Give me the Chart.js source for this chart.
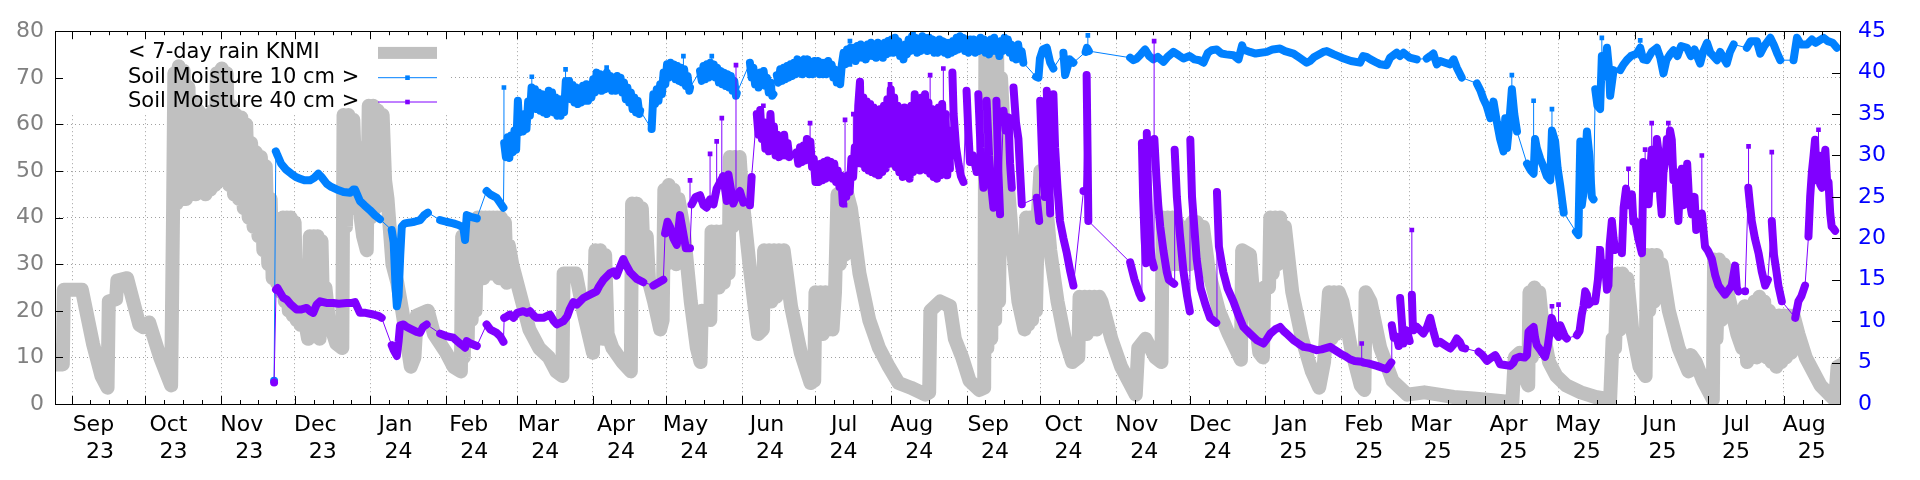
<!DOCTYPE html>
<html>
<head>
<meta charset="utf-8">
<script src="https://cdn.jsdelivr.net/npm/chart.js@4"></script>
<style>
  html, body { margin: 0; padding: 0; background: #fff; }
  #wrap { width: 1920px; height: 480px; }
</style>
</head>
<body>
<div id="wrap"><canvas id="myChart" width="1920" height="480"></canvas></div>
<script>
// x values are days counted from 2023-08-25 (left edge of the plot)
const startDate = Date.UTC(2023, 7, 25);
const endDay = 730;

const monthLabels = [
    ['Sep', '23'], ['Oct', '23'], ['Nov', '23'], ['Dec', '23'],
    ['Jan', '24'], ['Feb', '24'], ['Mar', '24'], ['Apr', '24'], ['May', '24'], ['Jun', '24'],
    ['Jul', '24'], ['Aug', '24'], ['Sep', '24'], ['Oct', '24'], ['Nov', '24'], ['Dec', '24'],
    ['Jan', '25'], ['Feb', '25'], ['Mar', '25'], ['Apr', '25'], ['May', '25'], ['Jun', '25'],
    ['Jul', '25'], ['Aug', '25']
];

// 7-day rain (mm, left axis)
const rain7d = [
    [0,13],[0.8,8.5],[3.2,8.5],[3.6,24.5],[11,24.5],[15.5,13],[19,6],[21.5,3.5],[22,22],[25,22.5],[25.5,26.5],[29.5,27],[31,24],[34.5,17],[36,16.5],[38.5,17.5],[43,10],[47.5,4],
    [48.3,42],[48.8,71],[49.8,43],[50.6,72.5],[51.6,44],[52.6,71.5],[53.6,44],[54.6,68],[55.6,45],[56.6,65],[57.6,45],[58.6,63],[59.6,45.5],[60.6,62],[61.6,45],[62.6,62],[63.6,46],[64.6,63],[65.4,47],[66.2,71],[67.2,48],[68.2,72],[69.2,48],[70.2,71],[71.2,47],[72.2,64],[73.2,45],[74.2,62],[75.2,44],[76.2,61.5],[77.2,42],[78.2,60],[79.2,40],[80.2,56],[81.2,38],[82.2,54],[83.2,36],[84.2,53],[85.2,33],[86.2,51],[87.2,30],[88.2,44],[89,27],
    [90,40],[90.8,26],[91.6,38],[92.4,24],[93.2,40],[94,22],[94.8,40],[95.6,20],[96.4,40],[97.2,19],[98,39],[98.8,18],[99.6,30],[100.4,17],[101.5,20],[103.5,14],[104.2,36],[105,16],[105.8,36],[106.6,15],[107.4,36],[108.2,14],[109,35],[109.8,16],[110.6,25],[112,18],[115,13],[117.5,12],
    [118,62],[119,38],[120,62],[121,42],[122,61],[123,46],[124,55],[125,40],[126,36],[127.5,33],[128.3,64],[129.2,40],[130.1,64],[131,42],[132,63],[133,45],[134,62],[135,48],[136,44],[138,30],[140,26],[142,20],[145.5,8],[147,10],[148,19],[152.5,20],[155,15],[160,11],[163,8],[166,7],
    [166.5,36],[167.2,10],[168,36],[168.8,14],[169.6,38],[170.4,18],[171.2,39],[172,20],[172.8,40],[173.6,27],[174.4,40],[175.2,27],[176,40],[176.8,28],[177.6,40],[178.4,28],[179.2,40],[180,28],[180.8,40],[181.6,27],[182.4,40],[183.2,27],[184,39],[184.8,26],[185.6,34],[187,30],[190,24],[194,16],[198,12],[202,10],[205,7],[207.5,6],
    [208,28],[213,28],[216,20],[220,11],[221,33],[222,15],[223,33],[224,14],[225,32],[226,15],[228,12],[232,9],[235.5,7],[236,43],[237,30],[238,43],[239,30],[240,42],[241,28],[242,36],[243,26],[245,22],[247.5,16],
    [248.5,18],[249.2,46],[250,30],[251,47],[252,32],[253,46],[254,30],[255,44],[257,38],[260,22],[262.5,12],[264,9],[264.5,20],[268,18],[268.5,37],[269.5,25],[270.5,37],[271.5,25],[272.5,37],[273.5,26],[274.5,37],[275.5,28],[276,53],[277,38],[278,53],[279,40],[280,53],[281,45],[284,30],[287.5,15],[289.5,16],[290,33],[291,22],[292,33],[293,22],[294,33],[295,23],[296,33],[297,24],[298,33],[301,21],[305,11],[309,4.5],[310.5,5],[311,24],[312,15],[313,24],[314,15],[315,24],[316,16],[317,24],[318,16],[319,24],[320,45],[321,30],[322,45],[323,32],[324,45],[325.5,42],[329,28],[333,18],[337,12],[341,8],[345,4.5],[350,3.5],[356,2],[357.5,2.5],[358,20],[362,22],[366,21],
    [368,14],[371,10],[374,5],[378,3],[380,3.5],[380.5,76],[381.3,12],[382.1,77],[382.9,14],[383.7,77],[384.5,18],[385.3,76],[386.1,22],[386.9,70],[388,58],[390,45],[392,32],[394,22],[396.5,16],[397.2,40],[398,17],[398.8,40],[399.6,18],[400.4,40],[401.2,20],[402,41],[403,50],[404.5,48],[407,33],[410,22],[413,14],[416,9],[418.5,10],[419,23],[420,15],[421,23],[422,15],[423,23],[424,16],[425,23],[426,16],[427,23],[428,22],[432,14],[436,8],[442,2],[443,12],[446,14],[450,10],[452.5,9],[453,40],[454,28],[455,40],[456,30],[457,40],[458,30],[459,39],[460,30],[461,36],[462,30],[463,38],[464,30],[465,39],[466,31],[467,39],[468,31],[469.5,38],[472,28],[476,20],[480,15],[485,9.5],[485.5,33],
    [488.7,32],[490.5,20],[492.5,11],[494,10],[494.5,25],[496.5,25],[497,40],[498,28],[499,40],[500,30],[501,40],[502,32],[503,38],[506,24],[510,14],[514,7],[517,3.5],[519,9],[521,24],[522,14],[523,24],[524,15],[525,24],[526.5,22],[530,12],[534,4],[535.5,3],[536,24],[538,22],[542,12],[547,5],[553,2],[560,2.5],[566,2],[572,1.5],[580,1.2],[588,0.8],[596,0.4],[597,10],[599,11],[600,8],[601,6],[602.5,4],[603,24],[604,10],[605,25],[606,12],[607,24],[608.5,16],[611,9],[614,6],[618,4],[624,2.5],[630,1.5],[636,1],[637,14],[638,12],[639,28],[640,16],[641,28],[642,18],[643,27],[645,16],[648,8],[650.5,6],[651,32],[652,20],[653,32],[654,22],[655,32],[656,24],[657,30],[660,20],[664,12],[668,7],[669,10.5],[671,9],[674,5],[678,1],[678.5,31],[679.5,14],[680.5,31],[681.5,18],[682.5,30],[684,24],[688,15],[690,12],[691,21],[692,9],[693,20],[694,10],[695,22],[696,10],[697,23],[698,11],[699,22],[700,10],[701,20],[702,9],[703,17],[704,8],[705,19],[706,9],[707,19],[708,10],[709,19],[710,11],[711,19],[713,15],[716,10],[722,4],[728,0.8],[729,8],[731,8.5]
];

// soil moisture 10 cm (%, right axis); null = gap in the record
const soil10 = [
    [89.6,2.8],[89.9,null],[90.3,30.5],[91,30],[92.5,29],[94.5,28.3],[96.6,27.8],[98.5,27.4],[100.2,27.2],[102,27],[104.3,27],[106,27.3],[107.7,27.8],[109,27.4],[111.1,26.6],[113,26.2],[115.2,25.9],[118,25.6],[120.7,25.5],[122,25.9],[122.7,25.9],[124.7,24.5],[126.5,24],[128.8,23.4],[130.8,22.8],[132.9,22.3],[133.5,null],
    [137.7,21],[138.5,19.5],[139.3,14],[139.8,11.8],[140.5,13],[141.2,18],[141.8,21.4],[143,21.8],[145.2,21.9],[147,22],[149.3,22.2],[151,22.8],[152.5,23.1],[153,null],
    [157.5,22.2],[160,22],[162.9,21.8],[165,21.6],[167,21.3],[167.7,19.8],[168.4,22.8],[170,22.6],[172.5,22.4],[173,null],
    [176.5,25.7],[178,25.3],[180.6,24.9],[182,24.3],[183.4,23.7],[183.5,null],
    [183.7,31.5],[184.4,29.8],[185.1,32.2],[185.8,29.7],[186.5,32.4],[187.2,30.4],[187.9,33],[188.6,30.7],[189.3,36.6],[190,32.8],[190.7,34.6],[191.4,32.9],[192.1,35],[192.8,33.2],[193.5,36.5],[194.2,34.8],[194.9,38.2],[195.6,36],[196.3,38],[197,35.6],[197.7,37.6],[198.4,35.4],[199.1,37.4],[199.8,35.2],[200.5,37.2],[201.2,35],[201.9,37.8],[202.6,35.8],[203.3,37.6],[204,35.2],[204.7,37],[205.4,34.8],[206.1,36.8],[206.8,34.8],[207.5,36.6],[208.2,35.2],[208.9,39],[209.6,37],[210.3,39],[211,36.8],[211.7,38.5],[212.4,36.4],[213.1,38.2],[213.8,36.2],[214.5,38],[215.2,36.4],[215.9,38.4],[216.6,36.6],[217.3,38.6],[218,36.6],[218.7,38.2],[219.4,37],[220.1,39.2],[220.8,37.6],[221.5,40],[222.2,38],[222.9,39.8],[223.6,37.8],[224.3,39.6],[225,38],[225.7,40],[226.4,38.2],[227.1,39.6],[227.8,37.8],[228.5,39.4],[229.2,37.8],[229.9,39.6],[230.6,38],[231.3,39.4],[232,37.6],[232.7,38.8],[233.4,36.8],[234.1,38.2],[234.8,36.4],[235.5,37.6],[236.2,35.6],[236.9,37],[237.6,35.2],[238.3,36.6],[239,35],[239.3,35.4],[239.8,null],
    [244,33.2],[244.7,37.4],[245.4,36.2],[246.1,38],[246.8,36.6],[247.5,38.6],[248.2,37.4],[248.9,40],[249.6,38.6],[250.3,41],[251,39.4],[251.7,41.2],[252.4,39.6],[253.1,41],[253.8,39.2],[254.5,40.8],[255.2,39],[255.9,40.6],[256.6,38.8],[257.3,40.4],[258,38.4],[258.7,39.6],[259.4,37.8],[259.7,38.2],[260,null],
    [263.8,40.2],[264.5,39],[265.2,40.8],[265.9,39.2],[266.6,41],[267.3,39.4],[268,41.2],[268.7,39.8],[269.4,41],[270.1,39.4],[270.8,40.6],[271.5,38.8],[272.2,40.2],[272.9,38.6],[273.6,40],[274.3,38.4],[275,39.8],[275.7,38.2],[276.4,39.6],[277.1,37.8],[277.8,39],[278.5,37.2],[278.8,37.5],[279.3,null],
    [284.2,41.2],[284.9,39.4],[285.6,40.6],[286.3,38.6],[287,39.8],[287.7,38.2],[288.4,40],[289.1,38.6],[289.8,40.2],[290.5,38.4],[291.2,39.4],[291.9,37.6],[292.6,38.8],[293.3,37.2],[293.8,37.4],[294.5,null],
    [295.2,39.7],[295.9,38.8],[296.6,40.4],[297.3,39],[298,40.6],[298.7,39.2],[299.4,40.8],[300.1,39.4],[300.8,41],[301.5,39.6],[302.2,41.2],[302.9,39.8],[303.6,41.6],[304.3,40],[305,41.4],[305.7,39.8],[306.4,41.6],[307.1,40.2],[307.8,41.6],[308.5,39.8],[309.2,41.2],[309.9,39.8],[310.6,41.4],[311.3,40],[312,41.4],[312.7,39.8],[313.4,41.2],[314.1,39.8],[314.8,41.2],[315.5,39.8],[316.2,41.4],[316.9,40],[317.6,41],[318.3,39.4],[319,40.4],[319.7,38.8],[320.4,40],[321.1,38.6],
    [321.8,41],[322.5,42.4],[323.2,41],[323.9,42.8],[324.6,41.4],[325.3,43],[326,41.6],[326.7,43],[327.4,41.4],[328.1,43.2],[328.8,41.8],[329.5,43.4],[330.2,41.8],[330.9,43.2],[331.6,41.6],[332.3,43.4],[333,42],[333.7,43.6],[334.4,42],[335.1,43.4],[335.8,41.8],[336.5,43.6],[337.2,42],[337.9,43.4],[338.6,41.8],[339.3,43.6],[340,42.2],[340.7,43.8],[341.4,42.4],[342.1,44],[342.8,42.4],[343.5,44.2],[344.2,42.6],[344.9,43.8],[345.6,42],[346.3,43.2],[347,41.6],[347.7,43.4],[348.4,42.2],[349.1,44],[349.8,42.6],[350.5,44.4],[351.2,42.8],[351.9,44.2],[352.6,42.4],[353.3,44],[354,42.6],[354.7,44.4],[355.4,43],[356.1,44.2],[356.8,42.6],[357.5,44.2],[358.2,42.8],[358.9,44],[359.6,42.4],[360.3,43.8],[361,42.4],[361.7,44],[362.4,42.6],[363.1,43.8],[363.8,42.4],[364.5,43.6],[365.2,42.2],[365.9,43.6],[366.6,42.4],[367.3,43.8],[368,42.6],[368.7,44.2],[369.4,42.8],[370.1,44.4],[370.8,43],[371.5,44.2],[372.2,42.6],[372.9,43.8],[373.6,42.4],[374.3,44],[375,42.6],[375.7,44],[376.4,42.4],[377.1,43.8],[377.8,42.6],[378.5,44.2],[379.2,42.8],[379.9,44],[380.6,42.4],[381.3,43.6],[382,42.2],[382.7,44],[383.4,42.6],[384.1,44.2],[384.8,42.6],[385.5,43.6],[386.2,42],[386.9,43.8],[387.6,42.6],[388.3,44.2],[389,42.8],[389.7,44],[390.4,42.4],[391.1,43.4],[391.8,41.8],[392.5,43.2],[393.2,41.6],[393.9,43.4],[394.6,41.8],[395.3,42.6],[396,41.2],[396.5,null],
    [401.2,39.5],[402.2,39.4],[402.8,41.7],[404,42.8],[405.6,43],[407,41.2],[408.3,40.5],[408.8,null],
    [412.4,42.4],[413.1,39.7],[415,41.6],[416.5,41.2],[417,null],
    [421.5,42.5],[422,43],[422.8,42.6],[423.5,null],
    [439.7,41.8],[441,41.5],[442.4,41.7],[444,42.2],[445.8,42.8],[447.5,42],[449.2,41.6],[451,41.9],[453.3,41.3],[455,41.9],[457.4,42.5],[459.5,42.1],[461.5,41.7],[464,42],[466,41.6],[468,41.5],[469.7,41.2],[471.5,42.4],[473,42.7],[475.1,42.8],[477,42.3],[479,42.2],[481.9,42.1],[484,41.6],[485.5,43.3],[486,42.8],[488.7,42.5],[491,42.3],[495.6,42.5],[498,42.8],[501,42.9],[503,42.6],[506.5,42.3],[509,41.8],[511.9,41.2],[513.3,41.4],[515,41.9],[518.7,42.5],[520.1,42.6],[523,42.2],[525.5,41.9],[527,41.7],[530,41.4],[533.7,41.2],[535,42],[536.4,41.9],[538,41.6],[540.6,41.2],[542,41],[544.6,40.9],[546,41.8],[548.7,42.4],[550,42],[551.5,42.4],[554,41.8],[556.9,41.6],[557.5,null],
    [561,41.7],[562.4,42],[563.7,42.3],[565.1,41],[566.5,41.4],[568.5,41.2],[570.6,41],[572,41.6],[573.3,40.6],[575.3,39.4],[575.8,null],
    [581.5,38.7],[583,37.8],[584.2,36.8],[585.5,36],[587,34.5],[588.3,36.5],[589.7,34],[591,32],[592.4,30.5],[593.1,34.5],[593.8,30.9],[594.5,33],[595.8,38],[596.8,35],[597.9,32.9],[598.3,null],
    [602,29],[603.5,28.2],[604.7,27.8],[605.3,32],[606,30.9],[607.4,29.6],[608.8,28.6],[610.1,27.5],[611.5,27],[612.2,33],[613.5,31.7],[614.5,28.5],[615.6,26.3],[617,23.1],[617.5,null],
    [622,20.8],[623,20.4],[623.8,31.7],[624.4,24],[625.1,25.5],[626.5,32.9],[627.5,30],[628.5,25],[629.2,24.7],[629.6,null],
    [629.9,38],[630.8,36],[631.9,35.6],[632.6,42],[633.3,39.5],[634.7,43],[635.5,40.5],[636,37.2],[637.4,40.3],[637.8,null],
    [640.1,40.3],[641.5,41],[642.8,41.5],[644.5,42],[646.9,42.3],[648.3,43],[649.5,41.6],[651,41.5],[653,42.5],[655.1,43],[656.5,41.8],[657.8,39.9],[659,41.5],[660.5,42.2],[661.9,42.7],[663.5,42],[665,43.2],[667.4,43],[669,42],[670.5,42.8],[672.8,41.1],[674,42.5],[675.6,43.6],[677,42.4],[679.7,41.5],[681,42.5],[683.7,41.1],[685,42.5],[686.5,43.4],[687,null],
    [691.9,43],[693.5,43.8],[696,43.8],[697.4,42.3],[699,43.2],[701.5,44.2],[703,43.3],[704.5,42.2],[705.6,41.5],[706,null],
    [711,41.5],[712.4,44.2],[714,43.4],[716.5,43.4],[718.5,44],[720,43.6],[723.3,44.2],[725,43.8],[727,43.6],[728.7,43]
];
// short jumps in the 10 cm record: [day, from, to]
const soil10Spikes = [
    [183.6,31.5,38.2],[195,37.6,39.5],[208.8,37.5,40.4],[225.6,39.2,40.6],[257,39.5,42],[268.6,40.8,42],
    [325.1,41,43.8],[351.1,44,44.9],[422.4,42.6,44.5],[595.8,35,39.7],[604.7,28,36.6],[612.2,31.7,35.6],
    [632.6,39.5,44.2],[648.3,42,43.9]
];

// soil moisture 40 cm (%, right axis)
const soil40 = [
    [89.6,2.6],[90,null],[90.4,13.8],[91,14],[92,13.5],[93.4,12.8],[94.8,12.6],[96.5,12],[98.8,11.4],[100.5,11.4],[102.9,11.6],[104.3,11.2],[105.6,11],[107,12],[108.4,12.4],[111,12.2],[113.8,12.2],[116,12.1],[119.3,12.2],[121.5,12.2],[122.7,12.3],[124.7,11],[127,11],[130.2,10.8],[132.5,10.6],[133.6,10.4],[134,null],
    [137.7,7.1],[138.5,6.5],[139.8,5.8],[140.5,7.5],[141.1,9.5],[142.5,9.6],[143.8,9.3],[145.2,9.1],[147.9,8.7],[149.3,8.6],[150.5,9.3],[152,9.6],[152.5,null],
    [157.5,8.5],[160,8.2],[162.9,8],[165.6,7.3],[167,7],[167.7,6.8],[168.4,7.6],[170,7.3],[172.5,7],[173,null],
    [176.5,9.6],[178,9],[180.6,8.6],[182,8.2],[183.4,7.5],[183.5,null],
    [183.7,10.4],[185,10.6],[186,10.8],[187.5,10.4],[189,11],[191.5,11.2],[193,11],[194.3,11.2],[196,10.6],[197,10.4],[199.7,10.4],[202.4,10.8],[204,10],[205.2,9.6],[207.9,10],[209.5,10.6],[210.6,11.5],[212,12.3],[213.4,12],[216.1,12.8],[218.8,13.2],[221.5,13.6],[222.5,14.2],[224.3,15],[227,15.8],[228.5,16],[229.7,15.5],[231,16.5],[232.4,17.5],[233.5,16.8],[235.2,15.9],[237.9,15.1],[240.6,14.7],[241,null],
    [244.7,14.3],[246.5,14.6],[248.8,15],[249.2,null],
    [249.5,20.6],[250.5,22],[251.5,21.4],[252.9,20],[254.3,19.2],[255.6,22.8],[257,20.5],[258,18.8],[259.7,18.8],[260,null],
    [260.4,24.1],[262,25],[263.8,25.2],[265.2,24],[266.5,23.7],[267.9,24.7],[269.3,24.1],[270.6,26],[272,26.8],[273.3,27.5],[274.7,24.5],[275.4,27.7],[277.4,24.2],[278.8,25.2],[280.1,25.7],[281.5,24.3],[282,null],
    [284.2,24],[284.9,27.4],[285.5,null],
    [287,35],[287.7,32.5],[288.4,35.5],[289.1,32],[289.8,34],[290.5,30.8],[291.2,33],[291.9,30.5],[292.6,35],[293.3,31],[294,33.5],[294.7,30],[295.4,32.5],[296.1,29.8],[296.8,32],[297.5,30],[298.2,32.5],[298.9,30],[299.6,31.5],[300.3,29.8],[300.6,30],[301,null],
    [303.3,30.4],[304,29],[304.7,31],[305.4,29.2],[306.1,31.2],[306.8,29.4],[307.5,32],[308.2,30],[308.9,31.7],[309.6,28.6],[310.3,29.6],[311,26.8],[311.7,28.6],[312.4,26.8],[313.1,29],[313.8,27],[314.5,29.2],[315.2,27.2],[315.9,29.4],[316.6,27.4],[317.3,29.2],[318,27.2],[318.7,29],[319.4,26.8],[320.1,28.2],[320.8,26.2],[321.5,27.6],[322.2,24.2],[322.9,26.8],[323.6,25],[324.3,27.6],[325,25.6],[325.7,29.6],[326.4,27.4],[327.1,31],[327.8,29],
    [328.5,36],[329.2,38.9],[329.9,29],[330.6,37],[331.3,28.5],[332,36.5],[332.7,28.2],[333.4,36.2],[334.1,28],[334.8,35.8],[335.5,27.8],[336.2,35.4],[336.9,27.6],[337.6,35.6],[338.3,28],[339,36],[339.7,28.4],[340.4,36.8],[341.1,29],[341.8,38],[342.5,29.2],[343.2,37],[343.9,28.6],[344.6,36],[345.3,28],[346,35.4],[346.7,27.4],[347.4,35.8],[348.1,27.6],[348.8,35],[349.5,27.2],[350.2,36],[350.9,28],[351.6,37.4],[352.3,28.6],[353,36.8],[353.7,28.2],[354.4,37],[355.1,28.6],[355.8,37.4],[356.5,28.2],[357.2,36.4],[357.9,27.8],[358.6,35.6],[359.3,27.4],[360,35],[360.7,27.2],[361.4,35.8],[362.1,27.6],[362.8,36.2],[363.5,27.8],[364.2,35],[364.9,27.6],[365.6,33],[366,28.4],[366.8,null],
    [367,40],[367.5,35],[368.5,31],[369.5,29],[370.5,27.5],[371.5,26.8],[372.5,null],
    [372.8,37.8],[373.5,33],[374.2,29.2],[375.5,30],[376.9,28],[377.5,null],
    [377.6,37.4],[378.5,31],[379.7,26.1],[380.8,null],
    [381,36.6],[382,30],[383,26],[383.8,23.7],[384.8,null],
    [385,36.6],[385.8,28],[386.5,22.9],[387.7,null],
    [387.9,35.4],[388.8,33],[389.9,34.6],[390.6,29],[391.3,26.1],[391.8,null],
    [392,38.2],[393,34],[394,32],[394.7,28],[395.4,24.1],[395.6,null],
    [401.5,24.9],[402.5,22.1],[402.8,null],
    [402.9,36.6],[403.8,29],[404.8,25],[405.5,null],
    [405.6,37.8],[406.3,30],[407,23],[408.2,null],
    [408.3,37.4],[409,31],[410,26],[411,22.1],[412.4,20],[413.8,18.2],[415.2,16],[416.5,14.3],[417,null],
    [420.6,25.7],[421.5,null],[421.9,39.7],[422.3,30],[422.6,22.1],[423,null],
    [439.7,17.1],[441.5,15],[443.5,13.3],[444.3,12.8],[444.4,null],
    [444.5,31.5],[445,25],[445.6,20],[446.2,17],[446.4,null],
    [446.5,32.7],[447,26],[447.5,22],[448,19],[448.5,17.5],[449.4,16.5],[449.5,null],
    [449.6,32],[450.5,27],[451.2,24],[452,21.4],[453.3,18.5],[454.7,15.9],[455.5,15],[457.7,14.5],[457.8,null],
    [457.9,30.7],[458.8,25],[460,20.6],[461.5,16],[463,13],[464.1,11.2],[464.15,null],
    [464.3,31.9],[465,25],[466.9,17.5],[468.5,14],[470.5,12],[472.4,10.4],[474.9,9.8],[475,null],
    [475.2,25.6],[476,19],[477.8,15.9],[479.5,14],[481.9,12.4],[484,10.7],[486,9.3],[488.7,8.5],[491.5,7.7],[494.2,7.3],[495.5,7.8],[497,8.5],[499,9],[501,9.3],[502.5,8.8],[503.7,8.5],[506.5,7.7],[508.5,7.3],[510.6,6.9],[513,6.8],[516,6.5],[518,6.6],[521.5,6.9],[523,6.6],[525.6,6.1],[527.5,5.8],[529.6,5.4],[531.5,5.2],[534.4,5.1],[535,5],[537,4.9],[540.6,4.6],[542.5,4.4],[544.6,4.2],[546.5,5],[546.6,null],
    [546.7,9.5],[547.5,8],[548.7,8.1],[549.5,7],[550,null],
    [550.1,12.8],[550.8,10],[551.5,7.3],[552.8,8.9],[554,7.6],[554.5,null],
    [554.9,13.2],[555.3,9.5],[555.6,8.9],[557,9.3],[559.6,8.5],[561,9.2],[562.4,10.4],[563.5,9],[565.1,7.3],[566.5,7.5],[568,7.2],[570.6,6.7],[572,7.2],[573.3,7.9],[574.5,7.5],[575.5,6.8],[576.7,6.7],[577,null],
    [582.2,6.3],[583.5,6],[585.6,5.2],[587.5,5.6],[589,5.9],[590,5.4],[591,4.8],[593,4.7],[595.1,4.6],[596.5,5],[597.2,5.5],[599,5.7],[601,5.6],[602,5.9],[602.6,8.7],[603.5,9],[604.7,9.3],[605.3,8],[606,7.1],[607.5,6.5],[608.8,5.9],[609.4,5.7],[610.5,7],[612.1,10.4],[613,9.5],[613.5,8.7],[614.9,8.1],[615.6,9.5],[617,8.5],[617.6,8.1],[618.3,7.9],[619,null],
    [622.4,8.3],[623.5,8.8],[624.4,10.8],[625.1,11.8],[625.8,13.6],[626.5,13.2],[627.1,12],[628.5,12.4],[629.9,12.4],[631,15],[631.9,18.6],[632.5,16],[633.9,17],[634.7,13.8],[635.3,14.3],[635.8,19.2],[636.7,22.1],[637.4,20],[638,18.6],[638.5,null],
    [640.8,18.2],[641.5,23.7],[642.5,26],[643.5,24],[644.9,25.3],[645.5,22],[646.2,22.1],[647.5,20],[649,18.2],[649.6,29.2],[650.3,26],[651,28],[651.7,24.1],[652.4,28],[653,30.7],[653.7,26],[654.4,26.1],[655.1,32],[655.8,30.4],[656.5,25],[657.1,22.9],[657.8,28],[658.5,29.2],[659.2,32],[659.8,30],[660.5,33],[661.2,31.9],[661.9,27],[662.6,28],[663.2,25],[663.9,22.1],[664.6,27],[665.3,28.4],[666,24],[666.7,26.1],[667.5,29],[668.2,25],[669.4,22.9],[670.5,25],[671.2,21],[672.1,21.4],[673.5,23],[674.8,19],[676,18.5],[677.6,17.5],[679,15.5],[680.3,14.3],[681.5,13.8],[683,13.2],[684.5,13.8],[685.7,14.3],[687.1,16.7],[687.8,14],[688.5,13.6],[689,null],
    [691.2,13.6],[692,null],
    [692.5,26.1],[693.2,24],[693.9,22.1],[695.2,20],[696.7,18.2],[698,16],[699.4,14.3],[700.5,15],[701.5,null],
    [702.1,22.1],[703,18],[704,16],[704.8,14.3],[706.2,12.4],[707,null],
    [711.7,10.4],[713,12.4],[714.2,13],[715.7,14.3],[716.5,null],
    [717.1,20.2],[717.8,25],[718.5,28],[719.2,30],[719.8,31.9],[720.5,27],[721.2,30],[721.9,26.5],[722.6,26.1],[723.3,29],[724,30.7],[724.7,27],[725.3,26.8],[726,23],[726.6,21.4],[727.3,21.2],[728,20.9]
];
const soil40Spikes = [
    [259.7,24,27],[267.9,24.7,30.2],[270.6,26,31.7],[272.7,27.5,34.5],[278.5,25,40.9],[289.7,33,36],
    [308.8,31.7,33.9],[323.1,24,34.3],[326.5,30,35],[341.5,34,38.6],[357.9,31,39.7],[363.3,32,40.5],
    [449.5,32,43.8],[534.4,5.1,7.3],[554.9,13.2,21],[612.2,9.5,11.8],[614.9,8.1,12],[631.3,16,18.8],
    [643.5,24,28.4],[650.3,26,30.7],[653,30.7,33.9],[659.8,30,33.9],[673.5,21,30],[692.6,24,31.1],
    [702.1,18,30.4],[721.2,27,33.1]
];

const rainColor = '#c0c0c0';
const blue = '#0080ff';
const purple = '#8000ff';

// month boundaries (25 of them so the last month can be split into weeks)
const monthTicks = Array.from({ length: 25 }, (_, i) => (Date.UTC(2023, 8 + i, 1) - startDate) / 864e5);

const pts = arr => arr.map(([x, y]) => ({ x, y }));
const spikePts = arr => arr.flatMap(([x, a, b]) => [{ x, y: a }, { x, y: b }, { x, y: null }]);

const soilSets = (label, data, spikes, color, order) => [
    { label, data: pts(data), yAxisID: 'y2', borderColor: color, backgroundColor: color,
      borderWidth: 1, spanGaps: true, pointStyle: 'rect', pointRadius: 3.3, pointBorderWidth: 0, order },
    { label: label + ' band', data: pts(data), yAxisID: 'y2', borderColor: color,
      borderWidth: 8, spanGaps: false, pointRadius: 0, borderJoinStyle: 'round', borderCapStyle: 'round', order },
    { label: label + ' spikes', data: spikePts(spikes), yAxisID: 'y2', borderColor: color, backgroundColor: color,
      borderWidth: 1, spanGaps: false, pointStyle: 'rect', pointRadius: 3.3, pointBorderWidth: 0, order }
];

const gnuFrame = {
    id: 'gnuFrame',
    beforeDatasetsDraw(chart) {
        // opaque key box hides the grid behind it
        const { ctx, chartArea: a } = chart;
        ctx.save();
        ctx.fillStyle = '#fff';
        ctx.fillRect(a.left + 1, a.top + 1, 394, 82);
        ctx.restore();
    },
    afterDraw(chart) {
        const { ctx, chartArea: a, scales } = chart;
        const x = scales.x, yl = scales.y, yr = scales.y2;
        ctx.save();
        ctx.strokeStyle = '#000';
        ctx.lineWidth = 1;
        ctx.beginPath();
        for (let i = 0; i < monthTicks.length - 1; i++) {
            const m = monthTicks[i], n = monthTicks[i + 1];
            for (let k = 0; k < 4; k++) {
                const v = m + (n - m) * k / 4;
                if (v < 0 || v > endDay) continue;
                const px = Math.round(x.getPixelForValue(v)) + 0.5;
                const len = k === 0 ? 8 : 4;
                ctx.moveTo(px, a.bottom); ctx.lineTo(px, a.bottom - len);
                ctx.moveTo(px, a.top); ctx.lineTo(px, a.top + len);
            }
        }
        for (let v = 10; v < 80; v += 10) {
            const py = Math.round(yl.getPixelForValue(v)) + 0.5;
            ctx.moveTo(a.left, py); ctx.lineTo(a.left + 8, py);
        }
        for (let v = 5; v < 45; v += 5) {
            const py = Math.round(yr.getPixelForValue(v)) + 0.5;
            ctx.moveTo(a.right, py); ctx.lineTo(a.right - 8, py);
        }
        ctx.stroke();
        ctx.strokeRect(Math.round(a.left) + 0.5, Math.round(a.top) + 0.5,
            Math.round(a.right - a.left), Math.round(a.bottom - a.top));

        // key
        const ds = chart.data.datasets;
        const rows = [ds[6], ds[3], ds[0]];
        const sx0 = a.left + 323, sx1 = a.left + 382;
        ctx.font = '21px "DejaVu Sans"';
        ctx.textAlign = 'left';
        ctx.textBaseline = 'middle';
        rows.forEach((d, i) => {
            const ry = a.top + 21.7 + i * 24.3;
            ctx.fillStyle = '#000';
            ctx.fillText(d.label, a.left + 73, ry);
            if (i === 0) {
                ctx.fillStyle = rainColor;
                ctx.fillRect(sx0, ry - 6, sx1 - sx0, 12);
            } else {
                ctx.strokeStyle = d.borderColor;
                ctx.beginPath();
                ctx.moveTo(sx0, ry + 0.5); ctx.lineTo(sx1, ry + 0.5);
                ctx.stroke();
                ctx.fillStyle = d.borderColor;
                ctx.fillRect((sx0 + sx1) / 2 - 2.3, ry - 1.8, 4.6, 4.6);
            }
        });
        ctx.restore();
    }
};

Chart.defaults.font.family = "'DejaVu Sans', sans-serif";

new Chart(document.getElementById('myChart'), {
    type: 'line',
    data: {
        datasets: [
            ...soilSets('Soil Moisture 40 cm >', soil40, soil40Spikes, purple, 1),
            ...soilSets('Soil Moisture 10 cm >', soil10, soil10Spikes, blue, 2),
            { label: '< 7-day rain KNMI', data: pts(rain7d), yAxisID: 'y', borderColor: rainColor,
              borderWidth: 14, pointRadius: 0, borderJoinStyle: 'round', order: 3 }
        ]
    },
    options: {
        responsive: false,
        animation: false,
        devicePixelRatio: 1,
        events: [],
        layout: { padding: { top: 20, left: 0, right: 0, bottom: 0 } },
        elements: { line: { tension: 0, fill: false } },
        plugins: { legend: { display: false }, tooltip: { enabled: false } },
        scales: {
            x: {
                type: 'linear',
                min: 0,
                max: endDay,
                afterBuildTicks: s => { s.ticks = monthTicks.slice(0, 24).map(v => ({ value: v })); },
                afterFit: s => { s.height = 76; },
                ticks: {
                    autoSkip: false,
                    maxRotation: 0,
                    align: 'end',
                    labelOffset: 42,
                    padding: 7,
                    color: '#000',
                    font: { size: 22, lineHeight: 1.26 },
                    callback: (v, i) => monthLabels[i]
                },
                grid: { color: '#a0a0a0', lineWidth: 1, drawTicks: false },
                border: { display: false, dash: [1, 3] }
            },
            y: {
                position: 'left',
                min: 0,
                max: 80,
                afterFit: s => { s.width = 55; },
                ticks: { stepSize: 10, color: '#808080', padding: 11, font: { size: 22 } },
                grid: { color: '#a0a0a0', lineWidth: 1, drawTicks: false },
                border: { display: false, dash: [1, 3] }
            },
            y2: {
                position: 'right',
                min: 0,
                max: 45,
                afterFit: s => { s.width = 80; },
                ticks: { stepSize: 5, color: '#0000ff', padding: 18, font: { size: 22 } },
                grid: { display: false, drawTicks: false },
                border: { display: false }
            }
        }
    },
    plugins: [gnuFrame]
});
</script>
</body>
</html>
